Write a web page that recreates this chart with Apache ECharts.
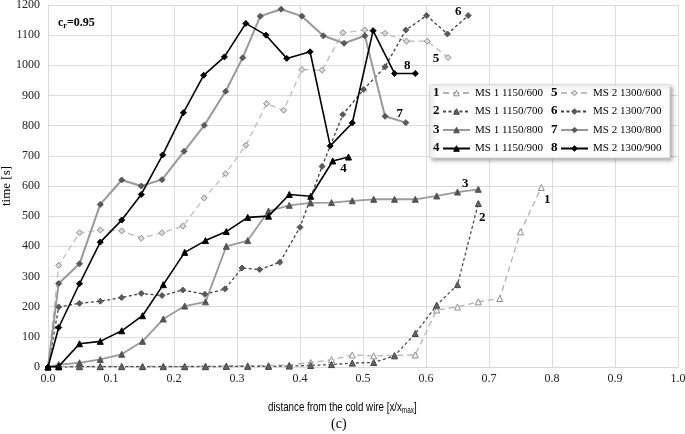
<!DOCTYPE html>
<html><head><meta charset="utf-8">
<script src="https://cdn.jsdelivr.net/npm/echarts@6/dist/echarts.min.js"></script>
<style>html,body{margin:0;padding:0;background:#fff}#c{width:685px;height:434px}</style>
</head><body><div id="c"></div>
<script>
// ---- data ----
const names = ['MS 1 1150/600','MS 1 1150/700','MS 1 1150/800','MS 1 1150/900','MS 2 1300/600','MS 2 1300/700','MS 2 1300/800','MS 2 1300/900'];
const xTicks = [0,0.1,0.2,0.3,0.4,0.5,0.6,0.7,0.8,0.9,1.0];
const yTicks = [0,100,200,300,400,500,600,700,800,900,1000,1100,1200];

const x1 = [0,0.017,0.05,0.083,0.117,0.15,0.183,0.217,0.25,0.283,0.317,0.35,0.383,0.417,0.45,0.483,0.517,0.55,0.583,0.617,0.65,0.683,0.717,0.75,0.783];
const y1 = [0,2,2,2,2,2,2,2,3,3,4,5,7,15,24,40,37,38,40,189,199,216,227,448,595];

const x2 = [0,0.017,0.05,0.083,0.117,0.15,0.183,0.217,0.25,0.283,0.317,0.35,0.383,0.417,0.45,0.483,0.517,0.55,0.583,0.617,0.65,0.683];
const y2 = [0,0,1,1,1,1,1,1,1,2,2,2,3,5,8,13,15,37,111,205,273,542];

const x3 = [0,0.017,0.05,0.083,0.117,0.15,0.183,0.217,0.25,0.283,0.317,0.35,0.383,0.417,0.45,0.483,0.517,0.55,0.583,0.617,0.65,0.683];
const y3 = [0,8,14,25,42,85,159,202,216,400,419,517,536,544,545,551,556,556,556,567,580,589];

const x4 = [0,0.017,0.05,0.083,0.117,0.15,0.183,0.217,0.25,0.283,0.317,0.35,0.383,0.417,0.452,0.477];
const y4 = [0,2,77,85,120,170,273,380,419,449,496,500,572,566,683,696];

const x5 = [0,0.017,0.05,0.083,0.117,0.148,0.181,0.214,0.248,0.282,0.314,0.347,0.374,0.403,0.435,0.468,0.503,0.535,0.569,0.602,0.635];
const y5 = [0,337,445,454,451,427,445,467,560,641,735,873,851,986,984,1108,1117,1106,1080,1080,1026];

const x6 = [0,0.017,0.05,0.083,0.117,0.148,0.181,0.214,0.249,0.281,0.308,0.336,0.368,0.40,0.435,0.468,0.501,0.535,0.568,0.601,0.634,0.667];
const y6 = [0,199,211,218,230,244,237,255,241,259,328,323,347,463,665,837,920,995,1117,1165,1104,1165];

const x7 = [0,0.017,0.05,0.083,0.117,0.148,0.181,0.216,0.248,0.282,0.309,0.337,0.37,0.403,0.437,0.47,0.503,0.535,0.568];
const y7 = [0,277,342,539,620,600,621,715,801,914,1025,1163,1186,1163,1098,1073,1098,831,810];

const x8 = [0,0.017,0.05,0.083,0.117,0.148,0.182,0.215,0.247,0.28,0.314,0.346,0.379,0.416,0.448,0.483,0.516,0.55,0.583];
const y8 = [0,131,276,414,487,572,703,843,967,1028,1139,1100,1023,1045,733,809,1115,973,973];

const endLabels = ['1','2','3','4','5','6','7','8'];

// ---- styles ----
const serif = "'Liberation Serif','Times New Roman',serif";
const styles = [
  {line:'#b3b3b3', type:[6,4], w:1.3, sym:'triangle', fill:'#fff', border:'#8c8c8c', off:[6,12]},
  {line:'#4d4d4d', type:[3,2.5], w:1.3, sym:'triangle', fill:'#666', border:'#444', off:[4,14]},
  {line:'#9a9a9a', type:'solid', w:1.8, sym:'triangle', fill:'#555', border:'#555', off:[-13,-6]},
  {line:'#000', type:'solid', w:1.6, sym:'triangle', fill:'#000', border:'#000', off:[-5,12]},
  {line:'#bdbdbd', type:[6,4], w:1.3, sym:'diamond', fill:'#d9d9d9', border:'#8c8c8c', off:[-12,1]},
  {line:'#404040', type:[3,2.5], w:1.3, sym:'diamond', fill:'#595959', border:'#595959', off:[-10,-4]},
  {line:'#999', type:'solid', w:2, sym:'diamond', fill:'#595959', border:'#595959', off:[-6,-9]},
  {line:'#000', type:'solid', w:1.6, sym:'diamond', fill:'#000', border:'#000', off:[-8,-8]}
];
const xs = [x1,x2,x3,x4,x5,x6,x7,x8];
const ys = [y1,y2,y3,y4,y5,y6,y7,y8];

const series = names.map((n,i)=>{
  const st = styles[i];
  const data = xs[i].map((x,j)=>{
    const p = {value:[x, ys[i][j]]};
    if (j === xs[i].length-1) {
      p.label = {show:true, position:'inside', offset:st.off, formatter:endLabels[i],
        fontFamily:serif, fontWeight:'bold', fontSize:13, color:'#000'};
    }
    return p;
  });
  return {
    name:n, type:'line', data:data, symbol:st.sym, symbolSize:6, showSymbol:true,
    lineStyle:{color:st.line, width:st.w, type:st.type},
    itemStyle:{color:st.fill, borderColor:st.border, borderWidth:1},
    emphasis:{disabled:true}, animation:false, z: 2 + (i===3||i===7 ? 1 : 0)
  };
});

const chart = echarts.init(document.getElementById('c'), null, {renderer:'canvas'});
const legendText = {fontFamily:serif, fontSize:11, color:'#000', lineHeight:14};
const rowsY = [93,111.5,130,148.5];
const sans = "'Liberation Sans','Arial',sans-serif";
const graphics = [
  {type:'rect', z:3, shape:{x:430,y:85,width:240,height:73},
   style:{fill:'#fff', stroke:'#d0d0d0', lineWidth:0.8, shadowBlur:4, shadowOffsetX:2, shadowOffsetY:2, shadowColor:'rgba(0,0,0,0.35)'}},
  {type:'text', z:5, x:58, y:16, style:{rich:{a:{fontFamily:serif,fontWeight:'bold',fontSize:12,fill:'#000'},s:{fontFamily:serif,fontWeight:'bold',fontSize:8,fill:'#000',padding:[6,0,0,0]}}, text:'{a|c}{s|r}{a|=0.95}'}},
  {type:'text', z:5, x:268, y:400, scaleX:0.75, style:{
    rich:{a:{fontFamily:sans,fontSize:13,fill:'#000'},
          s:{fontFamily:sans,fontSize:8.5,fill:'#000',padding:[6,0,0,0]}},
    text:'{a|distance from the cold wire [x/x}{s|max}{a|]}'}},
  {type:'text', z:5, x:331, y:417, style:{text:'(c)', fontFamily:serif, fontSize:14, fill:'#000'}}
];
endLabels.forEach((t,i)=>{
  const col = i<4 ? 0 : 1;
  const row = i%4;
  graphics.push({type:'text', z:6, x: col===0 ? 433 : 551, y: rowsY[row]-7,
    style:{text:t, fontFamily:serif, fontWeight:'bold', fontSize:13, fill:'#000'}});
});

chart.setOption({
  animation:false,
  backgroundColor:'#fff',
  grid:{left:48, right:7, top:5, bottom:67, containLabel:false, outerBoundsMode:'none'},
  xAxis:{type:'value', min:xTicks[0], max:xTicks[xTicks.length-1], interval:0.1,
    axisLine:{show:true, lineStyle:{color:'#d9d9d9'}}, axisTick:{show:false},
    axisLabel:{margin:6, fontFamily:serif, fontSize:12, color:'#222', formatter:v=>v.toFixed(1)},
    splitLine:{show:true, lineStyle:{color:'#dcdcdc', width:1}}},
  yAxis:{type:'value', min:yTicks[0], max:yTicks[yTicks.length-1], interval:100,
    name:'time [s]', nameLocation:'middle', nameGap:35, nameRotate:90, nameMoveOverlap:false,
    nameTextStyle:{fontFamily:serif, fontSize:13, color:'#000'},
    axisLine:{show:true, lineStyle:{color:'#d9d9d9'}}, axisTick:{show:false},
    axisLabel:{margin:8, fontFamily:serif, fontSize:12, color:'#222', formatter:v=>String(v)},
    splitLine:{show:true, lineStyle:{color:'#dcdcdc', width:1}}},
  legend:[
    {data:names.slice(0,4), orient:'vertical', left:442, top:86, itemWidth:27, itemHeight:7, itemGap:4.5,
     itemStyle:{borderWidth:1}, textStyle:legendText, selectedMode:false, z:6, padding:0},
    {data:names.slice(4), orient:'vertical', left:560, top:86, itemWidth:27, itemHeight:7, itemGap:4.5,
     itemStyle:{borderWidth:1}, textStyle:legendText, selectedMode:false, z:6, padding:0}
  ],
  graphic:graphics,
  series:series
});
</script></body></html>
